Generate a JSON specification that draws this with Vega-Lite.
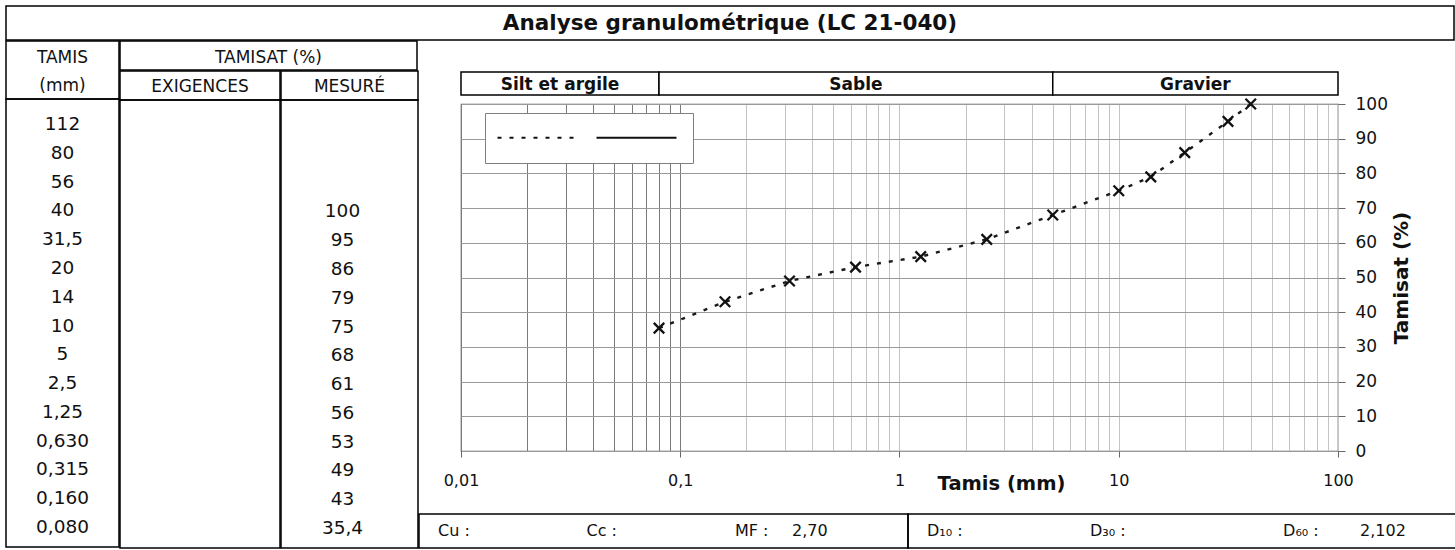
{
  "$schema": "https://vega.github.io/schema/vega-lite/v6.json",
  "padding": {"left": 5, "top": 5, "right": 2, "bottom": 2},
  "config": {
    "font": "DejaVu Sans",
    "view": {"stroke": null},
    "text": {"color": "#111111"},
    "axis": {"labelColor": "#111111", "titleColor": "#111111"}
  },
  "datasets": {
    "essai": [
      {"tamis": "112", "d": 112, "mesure": "", "p": null},
      {"tamis": "80", "d": 80, "mesure": "", "p": null},
      {"tamis": "56", "d": 56, "mesure": "", "p": null},
      {"tamis": "40", "d": 40, "mesure": "100", "p": 100},
      {"tamis": "31,5", "d": 31.5, "mesure": "95", "p": 95},
      {"tamis": "20", "d": 20, "mesure": "86", "p": 86},
      {"tamis": "14", "d": 14, "mesure": "79", "p": 79},
      {"tamis": "10", "d": 10, "mesure": "75", "p": 75},
      {"tamis": "5", "d": 5, "mesure": "68", "p": 68},
      {"tamis": "2,5", "d": 2.5, "mesure": "61", "p": 61},
      {"tamis": "1,25", "d": 1.25, "mesure": "56", "p": 56},
      {"tamis": "0,630", "d": 0.63, "mesure": "53", "p": 53},
      {"tamis": "0,315", "d": 0.315, "mesure": "49", "p": 49},
      {"tamis": "0,160", "d": 0.16, "mesure": "43", "p": 43},
      {"tamis": "0,080", "d": 0.08, "mesure": "35,4", "p": 35.4}
    ],
    "fractions": [
      {"nom": "Silt et argile", "debut": 0.01, "fin": 0.08},
      {"nom": "Sable", "debut": 0.08, "fin": 5},
      {"nom": "Gravier", "debut": 5, "fin": 100}
    ],
    "statsA": [
      {"cle": "Cu", "etiquette": "Cu :", "valeur": ""},
      {"cle": "Cc", "etiquette": "Cc :", "valeur": ""},
      {"cle": "MF", "etiquette": "MF :", "valeur": "2,70"}
    ],
    "statsB": [
      {"cle": "D10", "etiquette": "D₁₀ :", "valeur": ""},
      {"cle": "D30", "etiquette": "D₃₀ :", "valeur": ""},
      {"cle": "D60", "etiquette": "D₆₀ :", "valeur": "2,102"}
    ]
  },
  "spacing": -1.5,
  "vconcat": [
    {
      "width": 1448,
      "height": 34,
      "view": {"stroke": "#000000", "strokeWidth": 1.5},
      "data": {"values": [{"titre": "Analyse granulométrique (LC 21-040)"}]},
      "mark": {"type": "text", "fontSize": 21.5, "fontWeight": "bold", "dy": 1},
      "encoding": {"text": {"field": "titre", "type": "nominal"}}
    },
    {
      "spacing": -1.5,
      "hconcat": [
        {
          "spacing": -1.5,
          "hconcat": [
            {
              "spacing": 0,
              "bounds": "flush",
              "vconcat": [
                {
                  "width": 113,
                  "height": 58,
                  "view": {"stroke": "#000000", "strokeWidth": 1.5},
                  "data": {"values": [{}]},
                  "mark": {"type": "text", "text": ["TAMIS", "(mm)"], "lineHeight": 28, "fontSize": 17, "dy": -12},
                  "encoding": {}
                },
                {
                  "width": 113,
                  "height": 448,
                  "view": {"stroke": "#000000", "strokeWidth": 1.5},
                  "data": {"name": "essai"},
                  "mark": {"type": "text", "fontSize": 18.5},
                  "encoding": {
                    "y": {"field": "tamis", "type": "ordinal", "sort": null, "scale": {"type": "point", "padding": 0.78, "align": 0.556}, "axis": null},
                    "text": {"field": "tamis", "type": "nominal"}
                  }
                }
              ]
            },
            {
              "spacing": -1.5,
              "vconcat": [
                {
                  "width": 297,
                  "height": 29,
                  "view": {"stroke": "#000000", "strokeWidth": 1.5},
                  "data": {"values": [{}]},
                  "mark": {"type": "text", "text": "TAMISAT (%)", "fontSize": 17, "dy": 2},
                  "encoding": {}
                },
                {
                  "spacing": -1.5,
                  "hconcat": [
                    {
                      "spacing": 0,
                      "bounds": "flush",
                      "vconcat": [
                        {
                          "width": 160,
                          "height": 29,
                          "view": {"stroke": "#000000", "strokeWidth": 1.5},
                          "data": {"values": [{}]},
                          "mark": {"type": "text", "text": "EXIGENCES", "fontSize": 17, "dy": 1},
                          "encoding": {}
                        },
                        {
                          "width": 160,
                          "height": 448,
                          "view": {"stroke": "#000000", "strokeWidth": 1.5},
                          "data": {"values": []},
                          "mark": "point",
                          "encoding": {}
                        }
                      ]
                    },
                    {
                      "spacing": 0,
                      "bounds": "flush",
                      "vconcat": [
                        {
                          "width": 137,
                          "height": 29,
                          "view": {"stroke": "#000000", "strokeWidth": 1.5},
                          "data": {"values": [{}]},
                          "mark": {"type": "text", "text": "MESURÉ", "fontSize": 17, "dy": 1},
                          "encoding": {}
                        },
                        {
                          "width": 137,
                          "height": 448,
                          "view": {"stroke": "#000000", "strokeWidth": 1.5},
                          "data": {"name": "essai"},
                          "mark": {"type": "text", "fontSize": 18.5, "dx": -7},
                          "encoding": {
                            "y": {"field": "tamis", "type": "ordinal", "sort": null, "scale": {"type": "point", "padding": 0.78, "align": 0.556}, "axis": null},
                            "text": {"field": "mesure", "type": "nominal"}
                          }
                        }
                      ]
                    }
                  ]
                }
              ]
            }
          ]
        },
        {
          "spacing": 0,
          "vconcat": [
            {"width": 1, "height": 30, "data": {"values": []}, "mark": "point", "encoding": {}},
            {
              "spacing": 0,
              "hconcat": [
                {"width": 23, "height": 1, "data": {"values": []}, "mark": "point", "encoding": {}},
                {
                  "spacing": 9,
                  "bounds": "flush",
                  "resolve": {"scale": {"strokeDash": "independent"}, "legend": {"strokeDash": "independent"}},
                  "vconcat": [
                    {
                      "width": 877,
                      "height": 23,
                      "data": {"name": "fractions"},
                      "transform": [{"calculate": "sqrt(datum.debut * datum.fin)", "as": "milieu"}],
                      "layer": [
                        {
                          "mark": {"type": "rect", "fill": "#ffffff", "stroke": "#000000", "strokeWidth": 1.5},
                          "encoding": {
                            "x": {"field": "debut", "type": "quantitative", "scale": {"type": "log", "domain": [0.01, 100], "nice": false}, "axis": null},
                            "x2": {"field": "fin"}
                          }
                        },
                        {
                          "mark": {"type": "text", "fontSize": 17, "fontWeight": "bold", "dy": 1},
                          "encoding": {
                            "x": {"field": "milieu", "type": "quantitative", "axis": null},
                            "text": {"field": "nom", "type": "nominal"}
                          }
                        }
                      ]
                    },
                    {
                      "width": 877,
                      "height": 347,
                      "view": {"stroke": "#555555", "strokeWidth": 1.2},
                      "data": {"name": "essai"},
                      "transform": [{"filter": "isValid(datum.p)"}],
                      "encoding": {
                        "x": {
                          "field": "d",
                          "type": "quantitative",
                          "scale": {"type": "log", "domain": [0.01, 100], "nice": false},
                          "axis": {
                            "orient": "bottom",
                            "values": [0.01, 0.02, 0.03, 0.04, 0.05, 0.06, 0.07, 0.08, 0.09, 0.1, 0.2, 0.3, 0.4, 0.5, 0.6, 0.7, 0.8, 0.9, 1, 2, 3, 4, 5, 6, 7, 8, 9, 10, 20, 30, 40, 50, 60, 70, 80, 90, 100],
                            "tickCount": 40,
                            "grid": true,
                            "gridColor": {"condition": {"test": "datum.value <= 0.1", "value": "#7a7a7a"}, "value": "#c4c4c4"},
                            "gridWidth": 1,
                            "domain": false,
                            "ticks": true,
                            "tickSize": 6,
                            "tickColor": "#666666",
                            "tickOpacity": {"condition": {"test": "indexof([0.01, 0.1, 1, 10, 100], datum.value) >= 0", "value": 1}, "value": 0},
                            "labelExpr": "indexof([0.01, 0.1, 1, 10, 100], datum.value) >= 0 ? replace(format(datum.value, '~g'), '.', ',') : ''",
                            "labelFontSize": 16,
                            "labelPadding": 15,
                            "labelFlush": false,
                            "labelOverlap": false,
                            "labelBound": false,
                            "title": "Tamis (mm)",
                            "titleFontSize": 19.5,
                            "titleFontWeight": "bold",
                            "titleX": 540,
                            "titleY": 32,
                            "titleAlign": "center",
                            "titleBaseline": "middle",
                            "minExtent": 61,
                            "maxExtent": 61
                          }
                        },
                        "y": {
                          "field": "p",
                          "type": "quantitative",
                          "scale": {"domain": [0, 100], "nice": false},
                          "axis": {
                            "orient": "right",
                            "values": [0, 10, 20, 30, 40, 50, 60, 70, 80, 90, 100],
                            "tickCount": 12,
                            "grid": true,
                            "gridColor": "#9a9a9a",
                            "domain": false,
                            "tickSize": 7,
                            "tickColor": "#666666",
                            "labelFontSize": 17,
                            "labelPadding": 10,
                            "labelFlush": false,
                            "labelOverlap": false,
                            "title": "Tamisat (%)",
                            "titleFontSize": 20,
                            "titleFontWeight": "bold",
                            "titleAngle": 270,
                            "titleBaseline": "top",
                            "titlePadding": 4
                          }
                        }
                      },
                      "layer": [
                        {
                          "mark": {"type": "line", "color": "#1a1a1a", "strokeWidth": 2.4},
                          "encoding": {
                            "strokeDash": {
                              "datum": "Mesuré",
                              "type": "nominal",
                              "scale": {"domain": ["Mesuré", "Exigences"], "range": [[4, 8], [1, 0]]},
                              "legend": {
                                "orient": "none",
                                "legendX": 24,
                                "legendY": 9,
                                "direction": "horizontal",
                                "title": null,
                                "labelExpr": "''",
                                "symbolType": "M-10,0L10,0",
                                "symbolSize": 64,
                                "symbolStrokeWidth": 2,
                                "symbolStrokeColor": "#111111",
                                "symbolFillColor": "transparent",
                                "symbolOffset": 28,
                                "columnPadding": 10,
                                "padding": 12,
                                "labelFontSize": 25,
                                "labelOffset": 0,
                                "fillColor": "#ffffff",
                                "strokeColor": "#808080"
                              }
                            }
                          }
                        },
                        {
                          "mark": {"type": "point", "shape": "M-1,-1L1,1M-1,1L1,-1", "filled": false, "color": "#111111", "strokeWidth": 2.3, "size": 110, "opacity": 1},
                          "encoding": {}
                        }
                      ]
                    }
                  ]
                }
              ]
            },
            {
              "spacing": 0,
              "bounds": "flush",
              "hconcat": [
                {
                  "width": 489,
                  "height": 34,
                  "view": {"stroke": "#000000", "strokeWidth": 1.5},
                  "data": {"name": "statsA"},
                  "layer": [
                    {
                      "mark": {"type": "text", "align": "left", "fontSize": 16},
                      "encoding": {
                        "x": {"field": "cle", "type": "nominal", "sort": null, "scale": {"type": "point", "padding": 0.6465, "align": 0.099}, "axis": null},
                        "text": {"field": "etiquette", "type": "nominal"}
                      }
                    },
                    {
                      "mark": {"type": "text", "align": "left", "fontSize": 16, "dx": 57},
                      "encoding": {
                        "x": {"field": "cle", "type": "nominal", "sort": null},
                        "text": {"field": "valeur", "type": "nominal"}
                      }
                    }
                  ]
                },
                {
                  "width": 548,
                  "height": 34,
                  "view": {"stroke": "#000000", "strokeWidth": 1.5},
                  "data": {"name": "statsB"},
                  "layer": [
                    {
                      "transform": [{"filter": "datum.cle != 'D30'"}],
                      "mark": {"type": "text", "align": "left", "fontSize": 16},
                      "encoding": {
                        "x": {"field": "cle", "type": "nominal", "sort": null, "scale": {"type": "point", "domain": ["D10", "D30", "D60"], "padding": 0.539, "align": 0.099}, "axis": null},
                        "text": {"field": "etiquette", "type": "nominal"}
                      }
                    },
                    {
                      "transform": [{"filter": "datum.cle == 'D30'"}],
                      "mark": {"type": "text", "align": "left", "fontSize": 16, "dx": -15},
                      "encoding": {
                        "x": {"field": "cle", "type": "nominal", "sort": null},
                        "text": {"field": "etiquette", "type": "nominal"}
                      }
                    },
                    {
                      "mark": {"type": "text", "align": "left", "fontSize": 16, "dx": 77},
                      "encoding": {
                        "x": {"field": "cle", "type": "nominal", "sort": null},
                        "text": {"field": "valeur", "type": "nominal"}
                      }
                    }
                  ]
                }
              ]
            }
          ]
        },
        {
          "width": 1,
          "height": 506,
          "view": {"stroke": "#000000", "strokeWidth": 1.5},
          "data": {"values": []},
          "mark": "point",
          "encoding": {}
        }
      ]
    }
  ]
}
